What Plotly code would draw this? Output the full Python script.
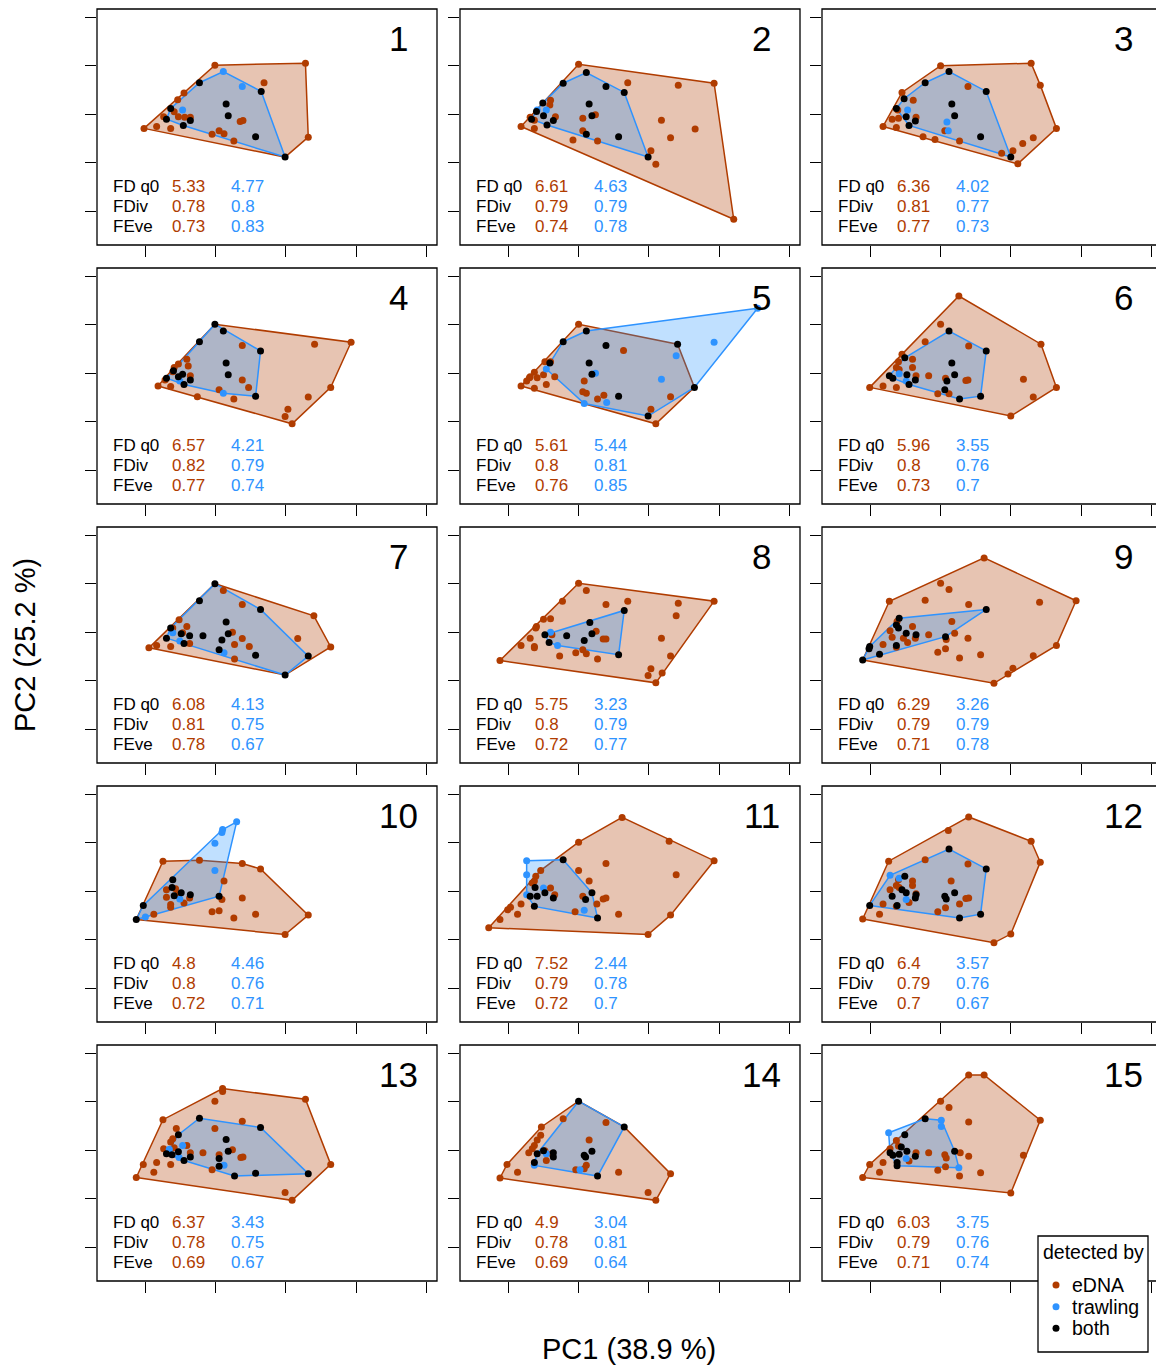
import plotly.graph_objects as go

# ---------------- data (PC1 / PC2 scores, axis units = tick spacing) ----------------
P1_EDNA = [(0.99,1.01),(2.28,1.05),(2.32,-0.47),(-0.02,-0.29),(1.69,0.65),(0.55,0.44),(0.46,0.30),(0.26,-0.05),(0.16,-0.25),(0.36,-0.29),(0.41,0.05),(0.47,-0.05),(0.56,-0.06),(0.64,-0.06),(0.95,-0.41),(1.05,-0.34),(1.12,-0.40),(1.26,-0.55),(1.35,-0.15),(1.39,-0.13)]
P1_TRAWL = [(1.11,0.88),(1.38,0.57),(0.53,0.09)]
P1_BOTH = [(0.77,0.65),(1.65,0.47),(1.15,0.21),(1.18,-0.03),(0.36,0.12),(0.30,-0.10),(0.54,-0.23),(0.64,-0.13),(1.57,-0.46),(1.99,-0.88)]

P2_EDNA = [(1.00,1.03),(2.93,0.64),(3.21,-2.16),(0.18,-0.25),(1.70,0.65),(2.42,0.60),(2.18,-0.12),(2.66,-0.30),(2.31,-0.48),(2.03,-0.75),(2.10,-1.03),(0.92,-0.53),(1.27,-0.55),(1.06,-0.34),(1.06,-0.08),(1.24,-0.01),(0.60,0.29),(0.59,0.19),(0.31,-0.06),(0.37,-0.29),(0.67,-0.05),(0.37,-0.12)]
P2_TRAWL = [(0.41,0.09),(0.54,0.09)]
P2_BOTH = [(1.11,0.86),(0.78,0.64),(1.39,0.57),(1.65,0.45),(0.49,0.23),(1.15,0.21),(1.19,-0.03),(0.40,0.06),(0.33,-0.10),(0.50,-0.03),(0.64,-0.13),(0.55,-0.22),(1.11,-0.41),(1.57,-0.46),(1.99,-0.88)]

P3_EDNA = [(1.00,1.00),(2.29,1.05),(2.42,0.60),(2.65,-0.29),(2.10,-1.02),(0.18,-0.25),(0.45,0.45),(0.61,0.29),(1.39,0.57),(0.31,-0.10),(0.40,-0.08),(0.37,-0.27),(0.65,-0.06),(0.75,-0.46),(0.92,-0.52),(1.06,-0.34),(1.27,-0.55),(1.87,-0.80),(2.03,-0.75),(2.17,-0.60),(2.32,-0.48),(0.39,0.09)]
P3_TRAWL = [(0.53,0.09),(1.09,-0.16),(1.11,-0.34)]
P3_BOTH = [(1.12,0.88),(0.78,0.65),(1.65,0.47),(0.48,0.32),(1.16,0.21),(1.20,-0.03),(0.37,0.12),(0.51,-0.05),(0.64,-0.14),(0.55,-0.23),(1.57,-0.46),(2.00,-0.88)]

P4_EDNA = [(2.93,0.64),(2.09,-1.04),(2.64,-0.29),(2.32,-0.49),(2.03,-0.74),(1.99,-0.89),(2.41,0.60),(1.38,0.57),(0.18,-0.26),(0.36,-0.27),(0.41,0.12),(0.47,0.19),(0.59,0.29),(0.39,0.03),(0.28,-0.14),(0.61,0.15),(0.64,-0.05),(0.74,-0.48),(1.05,-0.34),(1.26,-0.53),(1.38,-0.14),(1.47,-0.29)]
P4_TRAWL = [(0.49,-0.16),(1.11,-0.41)]
P4_BOTH = [(0.99,1.01),(1.11,0.87),(0.77,0.65),(1.64,0.46),(1.15,0.21),(1.18,-0.03),(0.40,0.05),(0.30,-0.10),(0.47,-0.07),(0.53,-0.02),(0.55,-0.23),(0.64,-0.14),(1.57,-0.47)]

P5_EDNA = [(1.00,1.01),(2.10,-1.04),(0.18,-0.26),(0.37,-0.31),(1.64,0.47),(2.31,-0.48),(2.03,-0.74),(1.08,-0.16),(1.06,-0.38),(1.11,-0.41),(1.27,-0.53),(1.36,-0.45),(0.31,-0.07),(0.41,-0.09),(0.50,-0.03),(0.54,-0.23),(0.66,-0.07),(0.37,0.02),(0.52,0.24),(0.60,0.24),(0.30,-0.09),(0.26,-0.16)]
P5_TRAWL = [(3.55,1.34),(2.93,0.64),(2.39,0.36),(2.18,-0.12),(0.54,0.09),(1.24,0.00),(1.08,-0.62),(1.40,-0.60)]
P5_BOTH = [(1.11,0.87),(0.78,0.65),(1.39,0.57),(2.41,0.60),(0.59,0.21),(1.15,0.21),(1.19,-0.02),(1.57,-0.47),(1.99,-0.88),(2.65,-0.29)]

P6_EDNA = [(1.26,1.59),(2.43,0.60),(2.65,-0.29),(2.00,-0.88),(-0.01,-0.29),(1.00,1.01),(0.78,0.65),(1.40,0.56),(0.45,0.39),(0.60,0.29),(0.40,0.24),(0.37,0.12),(0.41,0.08),(0.60,0.12),(0.65,-0.05),(0.83,-0.05),(1.07,-0.10),(1.36,-0.15),(1.39,-0.14),(2.18,-0.12),(2.32,-0.49),(0.18,-0.26),(0.37,-0.29),(0.96,-0.42),(1.12,-0.42)]
P6_TRAWL = [(0.41,-0.01),(0.51,-0.16)]
P6_BOTH = [(1.12,0.87),(1.65,0.46),(0.49,0.32),(1.16,0.21),(1.20,-0.03),(1.09,-0.16),(1.06,-0.34),(0.27,-0.05),(0.32,-0.10),(0.52,-0.03),(0.64,-0.14),(0.55,-0.23),(1.27,-0.53),(1.57,-0.47)]

P7_EDNA = [(0.05,-0.32),(0.16,-0.27),(0.36,-0.29),(2.40,0.34),(2.64,-0.30),(1.11,0.86),(1.38,0.57),(0.48,0.26),(0.59,0.12),(0.39,0.09),(0.63,-0.23),(1.24,0.00),(1.38,-0.13),(1.27,-0.25),(1.48,-0.29),(1.27,-0.55),(2.17,-0.13),(0.53,-0.01)]
P7_TRAWL = [(0.39,-0.01),(0.49,-0.18),(1.12,-0.42)]
P7_BOTH = [(0.99,1.00),(0.77,0.65),(1.64,0.47),(1.15,0.21),(1.18,-0.03),(0.36,0.09),(0.30,-0.12),(0.51,-0.03),(0.63,-0.07),(0.55,-0.23),(0.82,-0.07),(1.09,-0.16),(1.05,-0.36),(1.57,-0.47),(2.32,-0.49),(1.99,-0.88)]

P8_EDNA = [(1.00,1.01),(2.93,0.64),(2.10,-1.04),(-0.12,-0.58),(1.11,0.86),(0.77,0.64),(1.39,0.57),(1.70,0.64),(2.42,0.60),(2.39,0.34),(2.18,-0.12),(2.31,-0.49),(2.03,-0.75),(1.99,-0.89),(2.19,-0.84),(0.50,0.27),(0.60,0.28),(0.40,0.12),(0.39,0.09),(0.31,-0.12),(0.18,-0.27),(0.37,-0.29),(0.37,-0.32),(0.73,-0.49),(0.96,-0.42),(1.06,-0.36),(1.11,-0.44),(1.27,-0.55),(1.25,0.02),(1.35,-0.14),(1.39,-0.14),(0.62,-0.05)]
P8_TRAWL = [(0.60,0.00),(0.70,-0.27)]
P8_BOTH = [(1.65,0.45),(1.16,0.20),(1.19,-0.03),(1.08,-0.17),(0.83,-0.07),(0.52,-0.05),(0.58,-0.21),(1.57,-0.46)]

P9_EDNA = [(1.62,1.53),(2.93,0.65),(2.65,-0.27),(2.03,-0.74),(1.96,-0.86),(1.76,-1.05),(2.32,-0.48),(2.41,0.62),(0.27,0.64),(1.00,1.01),(1.12,0.88),(0.78,0.66),(1.40,0.57),(1.16,0.22),(1.20,-0.02),(1.39,-0.12),(1.08,-0.15),(1.07,-0.34),(0.96,-0.41),(1.27,-0.53),(1.57,-0.46),(0.83,-0.05),(0.60,0.12),(0.38,0.22),(0.28,0.03),(0.31,-0.10),(0.47,-0.12),(0.53,-0.21),(0.64,-0.12),(0.37,-0.31),(0.18,-0.25)]
P9_TRAWL = []
P9_BOTH = [(1.65,0.47),(0.41,0.29),(0.37,0.15),(0.40,0.09),(0.51,-0.02),(0.65,-0.05),(1.07,-0.09),(-0.01,-0.29),(-0.02,-0.34),(0.13,-0.45),(-0.11,-0.57),(0.37,-0.27)]

P10_EDNA = [(0.25,0.62),(0.77,0.64),(1.38,0.57),(1.64,0.46),(2.32,-0.49),(1.99,-0.89),(0.12,-0.47),(1.12,0.21),(1.09,-0.17),(1.38,-0.14),(0.95,-0.42),(1.05,-0.40),(1.26,-0.55),(1.57,-0.47),(0.30,0.03),(0.30,-0.12),(0.36,-0.27),(0.36,-0.33),(0.43,0.05),(0.55,-0.24),(0.63,-0.14),(0.46,-0.07)]
P10_TRAWL = [(1.30,1.43),(1.10,1.27),(1.09,1.21),(0.99,0.99),(0.99,0.43),(0.49,-0.16),(0.00,-0.53)]
P10_BOTH = [(0.39,0.24),(0.38,0.08),(0.41,-0.09),(0.51,-0.03),(0.64,-0.07),(1.05,-0.10),(-0.03,-0.29),(-0.13,-0.58)]

P11_EDNA = [(1.62,1.52),(2.29,1.03),(2.93,0.63),(2.39,0.34),(2.31,-0.49),(1.99,-0.89),(-0.28,-0.75),(-0.12,-0.58),(-0.01,-0.38),(0.03,-0.33),(0.13,-0.47),(0.18,-0.26),(1.00,1.01),(1.39,0.57),(1.00,0.43),(1.15,0.21),(1.57,-0.47),(0.95,-0.42),(1.06,-0.10),(1.35,-0.16),(1.39,-0.14),(1.26,-0.26),(0.66,-0.07),(0.60,0.07),(0.37,0.21),(0.46,0.43),(0.39,0.31),(0.34,0.17)]
P11_TRAWL = [(0.26,0.63),(0.26,0.34),(0.26,-0.07),(0.50,0.07),(1.08,-0.39)]
P11_BOTH = [(0.78,0.65),(1.19,-0.03),(1.10,-0.17),(1.27,-0.55),(0.31,-0.10),(0.41,-0.10),(0.52,-0.03),(0.37,-0.31),(0.64,-0.14),(0.38,0.08)]

P12_EDNA = [(1.40,1.53),(1.11,1.25),(2.29,1.03),(2.42,0.60),(2.00,-0.88),(1.76,-1.06),(-0.11,-0.57),(0.26,0.62),(0.78,0.65),(1.39,0.56),(1.15,0.21),(1.36,-0.15),(1.40,-0.14),(1.27,-0.26),(1.07,-0.34),(0.96,-0.42),(0.18,-0.26),(0.13,-0.47),(0.37,-0.31),(0.28,0.03),(0.37,0.12),(0.41,0.08),(0.60,0.21),(0.60,0.12),(0.65,-0.05),(0.55,-0.23),(0.40,0.24)]
P12_TRAWL = [(0.28,0.33),(0.41,0.27),(0.51,-0.17)]
P12_BOTH = [(1.12,0.87),(1.65,0.46),(1.57,-0.47),(1.27,-0.55),(-0.01,-0.29),(0.49,0.31),(0.31,-0.10),(0.38,-0.29),(0.51,-0.03),(0.65,-0.07),(0.64,-0.14),(1.06,-0.10),(1.08,-0.16),(1.20,-0.03),(0.45,0.03)]

P13_EDNA = [(1.10,1.27),(1.10,1.21),(2.28,1.05),(2.64,-0.29),(2.09,-1.03),(1.99,-0.87),(-0.13,-0.56),(-0.03,-0.29),(0.12,-0.45),(0.16,-0.25),(0.36,-0.29),(0.25,0.63),(0.99,1.01),(1.38,0.60),(0.99,0.45),(0.44,0.45),(0.39,0.24),(0.36,0.17),(0.59,0.10),(0.41,0.05),(0.64,-0.05),(0.82,-0.05),(1.05,-0.09),(1.24,0.01),(1.36,-0.15),(1.39,-0.14),(0.95,-0.40),(0.26,0.03)]
P13_TRAWL = [(0.53,0.10),(0.48,-0.15),(1.12,-0.31),(0.34,0.02)]
P13_BOTH = [(0.77,0.66),(1.64,0.47),(0.47,0.32),(1.15,0.22),(1.18,-0.02),(0.30,-0.07),(0.38,-0.09),(0.47,-0.03),(0.55,-0.21),(0.64,-0.14),(1.05,-0.33),(1.27,-0.53),(1.57,-0.47),(2.32,-0.48),(1.05,-0.17)]

P14_EDNA = [(2.31,-0.48),(2.10,-1.03),(1.99,-0.87),(-0.12,-0.57),(-0.02,-0.29),(0.13,-0.45),(0.78,0.65),(1.39,0.57),(1.15,0.21),(1.57,-0.45),(0.96,-0.40),(1.11,-0.31),(1.08,-0.38),(0.47,0.48),(0.46,0.31),(0.41,0.21),(0.37,0.10),(0.34,0.03),(0.29,-0.05),(0.54,-0.21),(0.52,-0.01),(0.62,-0.07)]
P14_TRAWL = [(0.37,-0.31),(1.02,-0.40),(0.54,-0.07)]
P14_BOTH = [(1.00,1.01),(1.65,0.48),(1.19,-0.02),(1.10,-0.14),(1.08,-0.10),(1.27,-0.53),(0.41,-0.07),(0.50,-0.01),(0.64,-0.05),(0.64,-0.14),(0.37,-0.25)]

P15_EDNA = [(1.40,1.55),(1.62,1.55),(2.42,0.62),(2.18,-0.10),(2.00,-0.88),(-0.11,-0.56),(-0.01,-0.29),(0.13,-0.45),(0.18,-0.25),(1.00,1.01),(1.12,0.88),(1.40,0.58),(0.37,0.20),(0.40,0.09),(0.28,0.03),(0.65,-0.05),(0.55,-0.22),(0.83,-0.05),(1.06,-0.09),(1.08,-0.16),(1.28,-0.05),(1.40,-0.12),(0.96,-0.41),(1.07,-0.34),(1.27,-0.53),(1.57,-0.46)]
P15_TRAWL = [(0.26,0.36),(1.01,0.62),(1.01,0.49),(1.26,-0.36),(0.51,-0.17)]
P15_BOTH = [(0.78,0.65),(0.49,0.32),(0.44,0.07),(0.28,-0.05),(0.32,-0.10),(0.41,-0.08),(0.52,-0.02),(0.64,-0.12),(0.38,-0.25),(0.38,-0.32),(1.20,-0.02)]

PANEL_LABELS = ["1","2","3","4","5","6","7","8","9","10","11","12","13","14","15"]
FDQ0_EDNA = [5.33, 6.61, 6.36, 6.57, 5.61, 5.96, 6.08, 5.75, 6.29, 4.8, 7.52, 6.4, 6.37, 4.9, 6.03]
FDQ0_TRAWL = [4.77, 4.63, 4.02, 4.21, 5.44, 3.55, 4.13, 3.23, 3.26, 4.46, 2.44, 3.57, 3.43, 3.04, 3.75]
FDIV_EDNA = [0.78, 0.79, 0.81, 0.82, 0.8, 0.8, 0.81, 0.8, 0.79, 0.8, 0.79, 0.79, 0.78, 0.78, 0.79]
FDIV_TRAWL = [0.8, 0.79, 0.77, 0.79, 0.81, 0.76, 0.75, 0.79, 0.79, 0.76, 0.78, 0.76, 0.75, 0.81, 0.76]
FEVE_EDNA = [0.73, 0.74, 0.77, 0.77, 0.76, 0.73, 0.78, 0.72, 0.71, 0.72, 0.72, 0.7, 0.69, 0.69, 0.71]
FEVE_TRAWL = [0.83, 0.78, 0.73, 0.74, 0.85, 0.7, 0.67, 0.77, 0.78, 0.71, 0.7, 0.67, 0.67, 0.64, 0.74]
STAT_NAMES = ["FD q0", "FDiv", "FEve"]
LEGEND_TITLE = "detected by"
GROUP_NAMES = ["eDNA", "trawling", "both"]
X_TITLE = "PC1 (38.9 %)"
Y_TITLE = "PC2 (25.2 %)"

PANELS = [
    (P1_EDNA, P1_TRAWL, P1_BOTH), (P2_EDNA, P2_TRAWL, P2_BOTH), (P3_EDNA, P3_TRAWL, P3_BOTH),
    (P4_EDNA, P4_TRAWL, P4_BOTH), (P5_EDNA, P5_TRAWL, P5_BOTH), (P6_EDNA, P6_TRAWL, P6_BOTH),
    (P7_EDNA, P7_TRAWL, P7_BOTH), (P8_EDNA, P8_TRAWL, P8_BOTH), (P9_EDNA, P9_TRAWL, P9_BOTH),
    (P10_EDNA, P10_TRAWL, P10_BOTH), (P11_EDNA, P11_TRAWL, P11_BOTH), (P12_EDNA, P12_TRAWL, P12_BOTH),
    (P13_EDNA, P13_TRAWL, P13_BOTH), (P14_EDNA, P14_TRAWL, P14_BOTH), (P15_EDNA, P15_TRAWL, P15_BOTH),
]

# ---------------- style / layout ----------------
W, H = 1156, 1366
FONT = "Liberation Sans, Arial, Helvetica, sans-serif"
RUST = "#B03C00"
BLUE = "#2E93FF"
BLACK = "#000000"
RUST_FILL = "rgba(176,60,0,0.30)"
BLUE_FILL = "rgba(30,144,255,0.28)"

COL_LEFT = [97, 460, 822]
ROW_TOP = [9, 268, 527, 786, 1045]
BOX_W, BOX_H = 340, 236
PX_X, PX_Y = 70.2, 48.6          # pixels per axis unit
X_OFF, Y_OFF = 48.4, 105.3       # first x tick / middle y tick offset inside box


def hull(points):
    pts = sorted(set(points))
    if len(pts) < 3:
        return pts

    def cross(o, a, b):
        return (a[0] - o[0]) * (b[1] - o[1]) - (a[1] - o[1]) * (b[0] - o[0])

    lower, upper = [], []
    for p in pts:
        while len(lower) >= 2 and cross(lower[-2], lower[-1], p) <= 0:
            lower.pop()
        lower.append(p)
    for p in reversed(pts):
        while len(upper) >= 2 and cross(upper[-2], upper[-1], p) <= 0:
            upper.pop()
        upper.append(p)
    return lower[:-1] + upper[:-1]


fig = go.Figure()
layout = dict(width=W, height=H, margin=dict(l=0, r=0, t=0, b=0),
              paper_bgcolor="white", plot_bgcolor="rgba(0,0,0,0)",
              showlegend=False, font=dict(family=FONT, color="black"))
shapes, annotations = [], []

for i, (edna, trawl, both) in enumerate(PANELS):
    n = i + 1
    r, c = divmod(i, 3)
    L, T = COL_LEFT[c], ROW_TOP[r]
    R = min(L + BOX_W, W)
    xs = "" if n == 1 else str(n)
    xa, ya = "x" + xs, "y" + xs
    layout["xaxis" + xs] = dict(
        domain=[L / W, R / W], anchor=ya,
        range=[-X_OFF / PX_X, (R - L - X_OFF) / PX_X],
        tickvals=[0, 1, 2, 3, 4], ticks="outside", ticklen=11, tickwidth=1.2, tickcolor="black",
        showticklabels=False, showgrid=False, zeroline=False, showline=False, fixedrange=True)
    layout["yaxis" + xs] = dict(
        domain=[1 - (T + BOX_H) / H, 1 - T / H], anchor=xa,
        range=[-(BOX_H - Y_OFF) / PX_Y, Y_OFF / PX_Y],
        tickvals=[-2, -1, 0, 1, 2], ticks="outside", ticklen=11, tickwidth=1.2, tickcolor="black",
        showticklabels=False, showgrid=False, zeroline=False, showline=False, fixedrange=True)

    # convex hulls
    for grp, line_col, fill_col in ((edna + both, RUST, RUST_FILL), (trawl + both, BLUE, BLUE_FILL)):
        hp = hull(grp)
        if len(hp) >= 3:
            hp = hp + [hp[0]]
            fig.add_trace(go.Scatter(x=[p[0] for p in hp], y=[p[1] for p in hp], xaxis=xa, yaxis=ya,
                                     mode="lines", fill="toself", fillcolor=fill_col,
                                     line=dict(color=line_col, width=1.5), hoverinfo="skip"))
    # points
    for grp, col in ((edna, RUST), (trawl, BLUE), (both, BLACK)):
        if grp:
            fig.add_trace(go.Scatter(x=[p[0] for p in grp], y=[p[1] for p in grp], xaxis=xa, yaxis=ya,
                                     mode="markers", marker=dict(color=col, size=7, line=dict(width=0))))

    # panel box
    shapes.append(dict(type="rect", xref="paper", yref="paper",
                       x0=L / W, x1=(L + BOX_W) / W, y0=1 - (T + BOX_H) / H, y1=1 - T / H,
                       line=dict(color="black", width=1.3), fillcolor="rgba(0,0,0,0)", layer="above"))

    # panel number
    annotations.append(dict(x=3.61, y=1.55, xref=xa, yref=ya, text=PANEL_LABELS[i], showarrow=False,
                            xanchor="center", yanchor="middle", font=dict(size=35, color="black", family=FONT)))
    # stats
    stat_rows = [(FDQ0_EDNA[i], FDQ0_TRAWL[i]), (FDIV_EDNA[i], FDIV_TRAWL[i]), (FEVE_EDNA[i], FEVE_TRAWL[i])]
    for k, (name, (ve, vt)) in enumerate(zip(STAT_NAMES, stat_rows)):
        yy = -1.49 - 0.405 * k
        for xx, txt, col in ((-0.495, name, "black"), (0.35, f"{ve:g}", RUST), (1.195, f"{vt:g}", BLUE)):
            annotations.append(dict(x=xx, y=yy, xref=xa, yref=ya, text=txt, showarrow=False,
                                    xanchor="left", yanchor="middle", font=dict(size=17, color=col, family=FONT)))

# axis titles
annotations.append(dict(x=629 / W, y=1 - 1349 / H, xref="paper", yref="paper", text=X_TITLE, showarrow=False,
                        xanchor="center", yanchor="middle", font=dict(size=29, color="black", family=FONT)))
annotations.append(dict(x=25 / W, y=1 - 645 / H, xref="paper", yref="paper", text=Y_TITLE, showarrow=False,
                        textangle=-90, xanchor="center", yanchor="middle", font=dict(size=29, color="black", family=FONT)))

# legend
shapes.append(dict(type="rect", xref="paper", yref="paper", x0=1038 / W, x1=1148 / W,
                   y0=1 - 1352 / H, y1=1 - 1236 / H, line=dict(color="black", width=1.3),
                   fillcolor="white", layer="above"))
annotations.append(dict(x=1093 / W, y=1 - 1252 / H, xref="paper", yref="paper", text=LEGEND_TITLE,
                        showarrow=False, xanchor="center", yanchor="middle",
                        font=dict(size=19.5, color="black", family=FONT)))
for k, (name, col) in enumerate(zip(GROUP_NAMES, (RUST, BLUE, BLACK))):
    cy = 1285 + 21.65 * k
    shapes.append(dict(type="circle", xref="paper", yref="paper",
                       x0=(1056 - 3.5) / W, x1=(1056 + 3.5) / W, y0=1 - (cy + 3.5) / H, y1=1 - (cy - 3.5) / H,
                       fillcolor=col, line=dict(width=0), layer="above"))
    annotations.append(dict(x=1070 / W, y=1 - cy / H, xref="paper", yref="paper", text=name, showarrow=False,
                            xanchor="left", yanchor="middle", font=dict(size=19.5, color="black", family=FONT)))

layout["shapes"] = shapes
layout["annotations"] = annotations
fig.update_layout(**layout)
fig.write_html("out.html")
